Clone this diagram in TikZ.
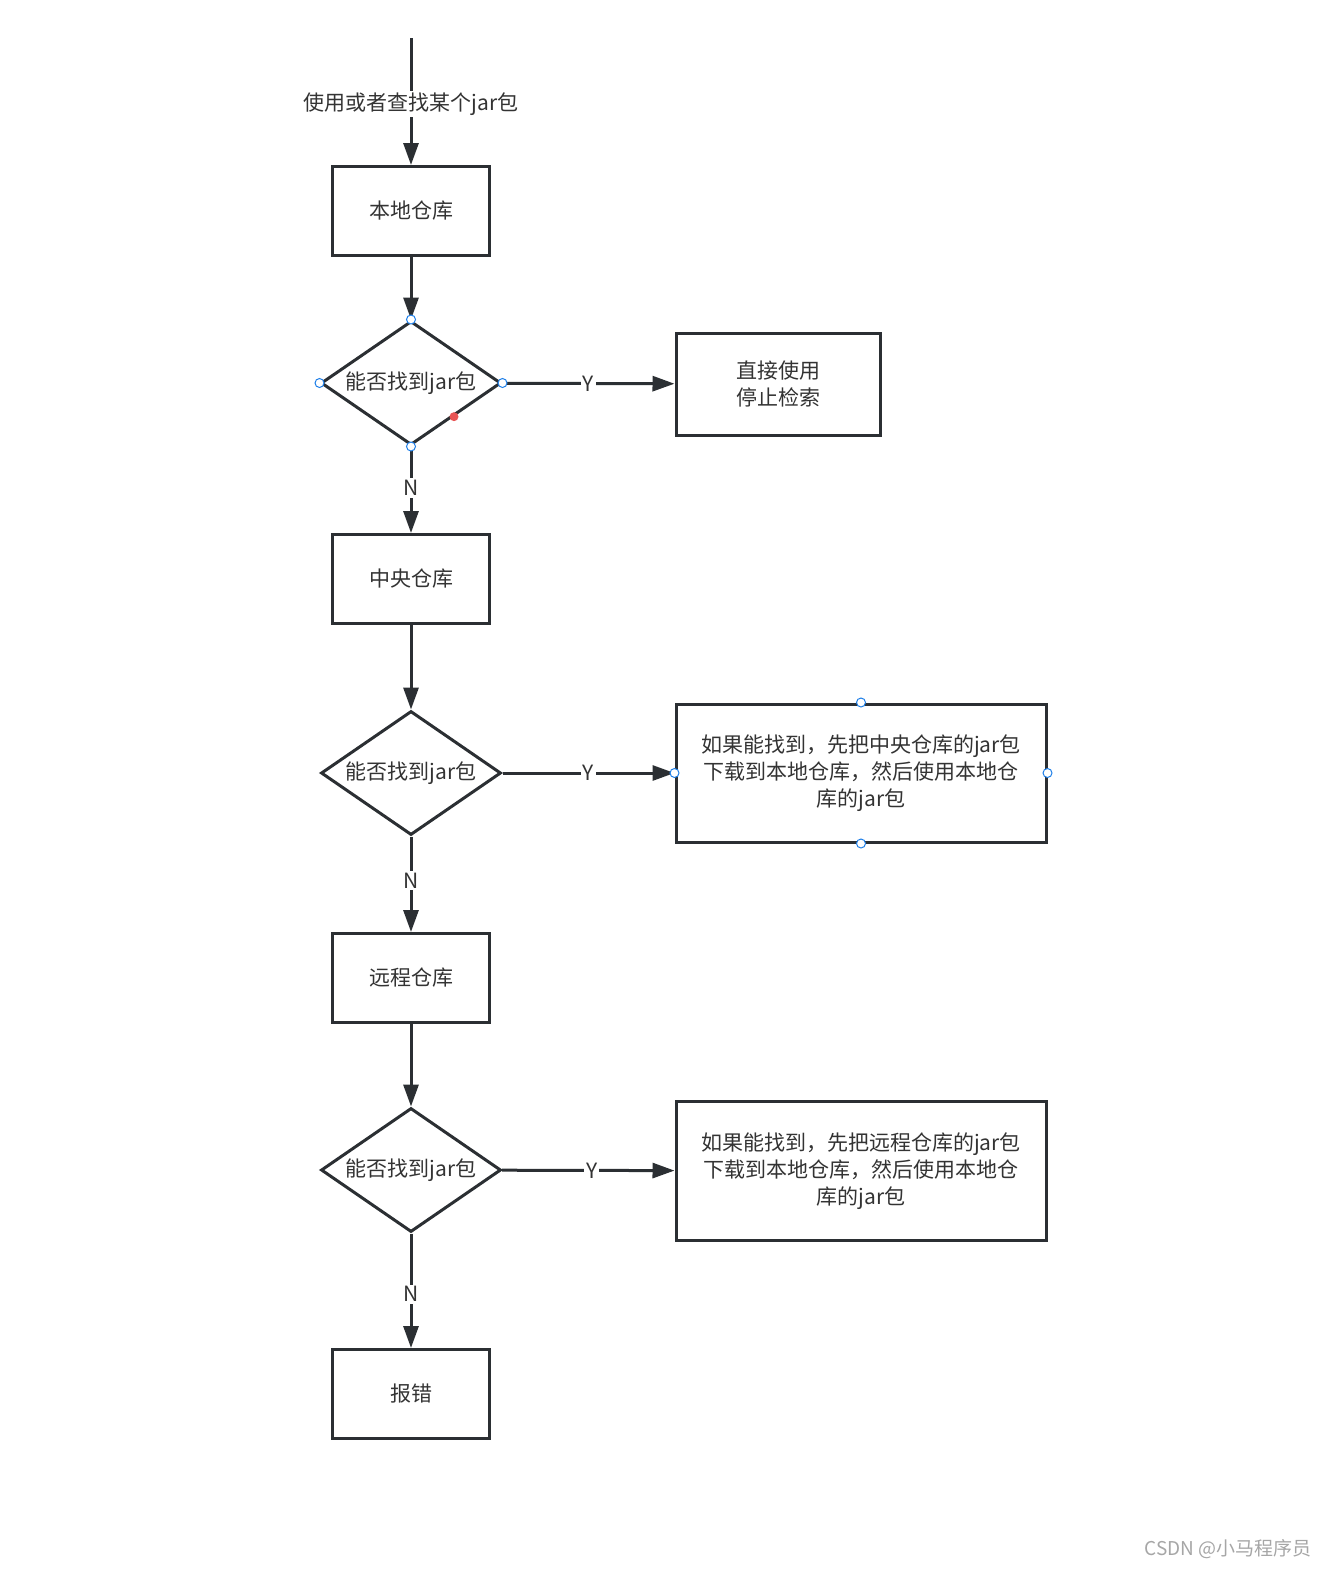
\documentclass[tikz,border=0pt]{standalone}
\usepackage{fontspec}
\setmainfont{Noto Sans CJK SC}
\usepackage{tikz}
\usetikzlibrary{arrows.meta,positioning,calc,shapes.geometric}

\definecolor{linec}{HTML}{2B2F33}
\definecolor{textc}{HTML}{333333}
\definecolor{pointc}{HTML}{1E7FE8}
\definecolor{redc}{HTML}{E85555}

\begin{document}
\begin{tikzpicture}[x=1pt, y=-1pt,
            every node/.style={text=textc, font=\fontsize{21}{27}\selectfont},
            box/.style={draw=linec, line width=3pt, rectangle, align=center,
                        minimum width=157pt, minimum height=89pt},
            bigbox/.style={box, minimum width=370pt, minimum height=138pt},
            decision/.style={draw=linec, line width=3pt, diamond, inner sep=0pt,
                        aspect=1.45, minimum width=180pt, minimum height=124pt},
            lbl/.style={fill=white, inner sep=2pt},
            anchorpt/.style={circle, draw=pointc, fill=white, line width=1pt,
                        inner sep=0pt, minimum size=9pt},
            flow/.style={draw=linec, line width=3pt,
                        -{Triangle[length=22pt, width=15pt]}}]
        \path[use as bounding box] (0,0) rectangle (1341,1582);

        % start
        \coordinate (start) at (411,38);

        % left column
        \node[box] (local) at (411,211) {本地仓库};
        \node[decision] (d1) at (411,383) {能否找到jar包};
        \node[box] (central) at (411,579) {中央仓库};
        \node[decision] (d2) at (411,773) {能否找到jar包};
        \node[box] (remote) at (411,978) {远程仓库};
        \node[decision] (d3) at (411,1170) {能否找到jar包};
        \node[box] (error) at (411,1394) {报错};

        % right column
        \node[box, minimum width=204pt, minimum height=102pt] (direct) at (778,384)
            {直接使用\\停止检索};
        \node[bigbox] (cbox) at (861,773)
            {如果能找到，先把中央仓库的jar包\\下载到本地仓库，然后使用本地仓\\库的jar包};
        \node[bigbox, minimum height=139pt] (rbox) at (861,1171)
            {如果能找到，先把远程仓库的jar包\\下载到本地仓库，然后使用本地仓\\库的jar包};

        % connectors
        \draw[flow] (start) -- node[lbl, pos=0.52] (use) {使用或者查找某个jar包} (local);
        \draw[flow] (local) -- (d1);
        \draw[flow] (d1) -- node[lbl] (y1) {Y} (direct);
        \draw[flow] (d1) -- node[lbl, pos=0.48] (n1) {N} (central);
        \draw[flow] (central) -- (d2);
        \draw[flow] (d2) -- node[lbl] (y2) {Y} (cbox);
        \draw[flow] (d2) -- node[lbl, pos=0.46] (n2) {N} (remote);
        \draw[flow] (remote) -- (d3);
        \draw[flow] (d3) -- node[lbl, pos=0.52] (y3) {Y} (rbox);
        \draw[flow] (d3) -- node[lbl, pos=0.53] (n3) {N} (error);

        % connection points
        \foreach \s/\a in {d1/north, d1/south, d1/east, d1/west,
                           cbox/north, cbox/south, cbox/east, cbox/west}
            \node[anchorpt] (pt-\s-\a) at (\s.\a) {};
        \node[circle, fill=redc, inner sep=0pt, minimum size=9pt] (sel)
            at ($(d1.east)!0.53!(d1.south)$) {};

        % watermark
        \node[text=gray!70, font=\fontsize{19}{22}\selectfont] (mark) at (1228,1549)
            {CSDN @小马程序员};
        \end{tikzpicture}
\end{document}
